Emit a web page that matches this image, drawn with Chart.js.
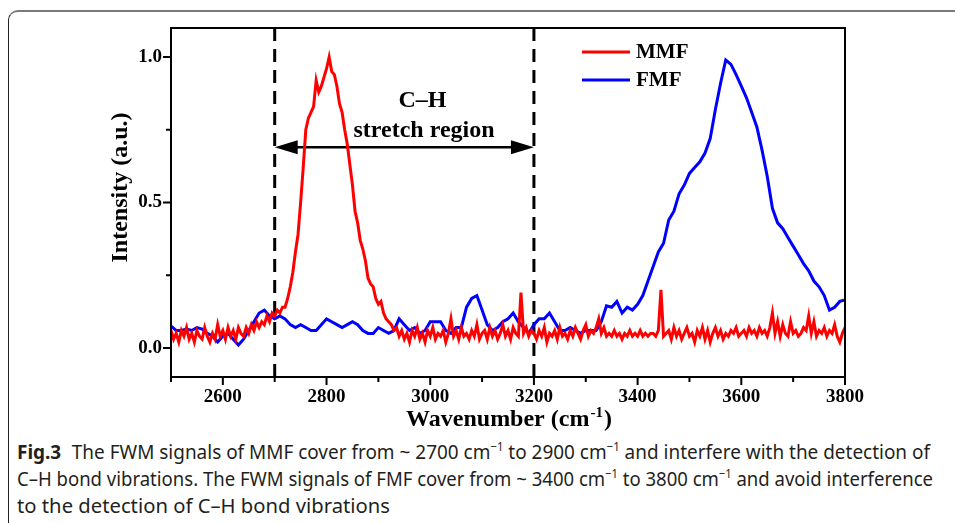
<!DOCTYPE html>
<html>
<head>
<meta charset="utf-8">
<script src="https://cdn.jsdelivr.net/npm/chart.js@4"></script>
<style>
  html, body { margin: 0; padding: 0; background: #fff; }
  body { width: 955px; height: 523px; position: relative; overflow: hidden; }
  #frame {
    position: absolute; left: 8px; top: 10px; width: 1000px; height: 600px;
    border-top: 2px solid #7a7a7a; border-left: 1.5px solid #222;
    border-top-left-radius: 10px; box-sizing: border-box;
  }
  #wrap { position: absolute; left: 0; top: 0; width: 955px; height: 435px; }
  .cap {
    position: absolute; left: 17px; white-space: nowrap; color: #231f20;
    font-family: "Noto Sans", sans-serif; font-size: 20px; transform-origin: 0 50%;
  }
  .cap b { font-weight: bold; margin-right: 6px; }
  .cap sup { font-size: 12px; vertical-align: 8px; line-height: 0; }
</style>
</head>
<body>
<div id="frame"></div>
<div id="wrap"><canvas id="myChart"></canvas></div>
<div class="cap" data-w="913" style="top:438px"><b>Fig.3</b> The FWM signals of MMF cover from ~ 2700 cm<sup>−1</sup> to 2900 cm<sup>−1</sup> and interfere with the detection of</div>
<div class="cap" data-w="916" style="top:465px">C–H bond vibrations. The FWM signals of FMF cover from ~ 3400 cm<sup>−1</sup> to 3800 cm<sup>−1</sup> and avoid interference</div>
<div class="cap" data-w="373" style="top:492px">to the detection of C–H bond vibrations</div>
<script>
// squeeze caption lines to the condensed width of the original typeface
document.querySelectorAll('.cap').forEach(function (el) {
  var k = Number(el.dataset.w) / el.getBoundingClientRect().width;
  el.style.transform = 'scaleX(' + k + ')';
});

Chart.defaults.font.family = '"Liberation Serif", "Times New Roman", serif';
Chart.defaults.color = '#000';

// MMF spectrum, sampled every 5 cm-1
var waveMMF = [
  2500,2505,2510,2515,2520,2525,2530,2535,2540,2545,2550,2555,2560,2565,2570,2575,2580,2585,2590,2595,
  2600,2605,2610,2615,2620,2625,2630,2635,2640,2645,2650,2655,2660,2665,2670,2675,2680,2685,2690,2695,
  2700,2705,2710,2715,2720,2725,2730,2735,2740,2745,2750,2755,2760,2765,2770,2775,2780,2785,2790,2795,
  2800,2805,2810,2815,2820,2825,2830,2835,2840,2845,2850,2855,2860,2865,2870,2875,2880,2885,2890,2895,
  2900,2905,2910,2915,2920,2925,2930,2935,2940,2945,2950,2955,2960,2965,2970,2975,2980,2985,2990,2995,
  3000,3005,3010,3015,3020,3025,3030,3035,3040,3045,3050,3055,3060,3065,3070,3075,3080,3085,3090,3095,
  3100,3105,3110,3115,3120,3125,3130,3135,3140,3145,3150,3155,3160,3165,3170,3175,3180,3185,3190,3195,
  3200,3205,3210,3215,3220,3225,3230,3235,3240,3245,3250,3255,3260,3265,3270,3275,3280,3285,3290,3295,
  3300,3305,3310,3315,3320,3325,3330,3335,3340,3345,3350,3355,3360,3365,3370,3375,3380,3385,3390,3395,
  3400,3405,3410,3415,3420,3425,3430,3435,3440,3445,3450,3455,3460,3465,3470,3475,3480,3485,3490,3495,
  3500,3505,3510,3515,3520,3525,3530,3535,3540,3545,3550,3555,3560,3565,3570,3575,3580,3585,3590,3595,
  3600,3605,3610,3615,3620,3625,3630,3635,3640,3645,3650,3655,3660,3665,3670,3675,3680,3685,3690,3695,
  3700,3705,3710,3715,3720,3725,3730,3735,3740,3745,3750,3755,3760,3765,3770,3775,3780,3785,3790,3795,
  3800
];
var mmf = [
  0.06,0.03,0.05,0.02,0.06,0.04,0.07,0.03,0.05,0.02,0.06,0.04,0.03,0.07,0.04,0.02,0.05,0.03,0.08,0.04,
  0.06,0.03,0.07,0.04,0.06,0.03,0.07,0.05,0.04,0.07,0.05,0.08,0.06,0.09,0.07,0.09,0.08,0.11,0.09,0.12,
  0.11,0.13,0.12,0.14,0.14,0.17,0.21,0.26,0.33,0.39,0.50,0.62,0.75,0.79,0.81,0.83,0.92,0.88,0.90,0.93,
  0.96,1.00,0.95,0.94,0.90,0.84,0.81,0.75,0.70,0.63,0.56,0.47,0.43,0.37,0.34,0.30,0.24,0.22,0.21,0.17,
  0.15,0.16,0.12,0.10,0.09,0.08,0.06,0.07,0.04,0.06,0.03,0.05,0.02,0.06,0.04,0.07,0.03,0.05,0.02,0.06,
  0.04,0.07,0.03,0.05,0.04,0.06,0.02,0.05,0.10,0.04,0.06,0.03,0.07,0.04,0.05,0.03,0.06,0.04,0.08,0.03,
  0.05,0.06,0.03,0.07,0.04,0.06,0.03,0.05,0.08,0.04,0.06,0.03,0.07,0.05,0.04,0.19,0.05,0.07,0.04,0.06,
  0.05,0.03,0.06,0.04,0.07,0.02,0.05,0.04,0.06,0.03,0.07,0.04,0.05,0.03,0.06,0.04,0.07,0.05,0.03,0.06,
  0.08,0.04,0.06,0.05,0.07,0.10,0.05,0.07,0.04,0.05,0.04,0.06,0.04,0.05,0.03,0.05,0.04,0.06,0.04,0.05,
  0.04,0.06,0.04,0.05,0.04,0.05,0.05,0.04,0.06,0.20,0.04,0.05,0.06,0.03,0.07,0.04,0.06,0.03,0.05,0.07,
  0.04,0.05,0.02,0.06,0.04,0.07,0.03,0.06,0.02,0.05,0.07,0.04,0.06,0.03,0.05,0.04,0.06,0.05,0.07,0.04,
  0.05,0.06,0.04,0.07,0.05,0.06,0.04,0.07,0.05,0.06,0.04,0.07,0.12,0.05,0.09,0.04,0.08,0.05,0.04,0.09,
  0.05,0.06,0.04,0.05,0.07,0.06,0.11,0.05,0.09,0.04,0.06,0.05,0.07,0.04,0.06,0.05,0.08,0.04,0.02,0.05,
  0.07
];

// FMF spectrum, sampled every 10 cm-1
var waveFMF = [
  2500,2510,2520,2530,2540,2550,2560,2570,2580,2590,
  2600,2610,2620,2630,2640,2650,2660,2670,2680,2690,
  2700,2710,2720,2730,2740,2750,2760,2770,2780,2790,
  2800,2810,2820,2830,2840,2850,2860,2870,2880,2890,
  2900,2910,2920,2930,2940,2950,2960,2970,2980,2990,
  3000,3010,3020,3030,3040,3050,3060,3070,3080,3090,
  3100,3110,3120,3130,3140,3150,3160,3170,3180,3190,
  3200,3210,3220,3230,3240,3250,3260,3270,3280,3290,
  3300,3310,3320,3330,3340,3350,3360,3370,3380,3390,
  3400,3410,3420,3430,3440,3450,3460,3470,3480,3490,
  3500,3510,3520,3530,3540,3550,3560,3570,3580,3590,
  3600,3610,3620,3630,3640,3650,3660,3670,3680,3690,
  3700,3710,3720,3730,3740,3750,3760,3770,3780,3790,
  3800
];
var fmf = [
  0.075,0.06,0.06,0.065,0.06,0.07,0.065,0.05,0.04,0.02,
  0.04,0.05,0.03,0.01,0.03,0.06,0.09,0.12,0.13,0.11,
  0.10,0.11,0.10,0.08,0.07,0.08,0.07,0.06,0.06,0.08,
  0.10,0.09,0.08,0.07,0.08,0.09,0.08,0.06,0.05,0.05,
  0.07,0.06,0.05,0.06,0.10,0.08,0.06,0.07,0.05,0.06,
  0.09,0.09,0.09,0.06,0.05,0.07,0.07,0.14,0.17,0.18,
  0.13,0.08,0.06,0.07,0.09,0.10,0.12,0.09,0.07,0.05,
  0.08,0.10,0.10,0.12,0.09,0.06,0.06,0.07,0.06,0.05,
  0.06,0.06,0.06,0.09,0.145,0.14,0.16,0.12,0.14,0.13,
  0.15,0.18,0.23,0.28,0.33,0.36,0.44,0.47,0.53,0.56,
  0.60,0.62,0.64,0.67,0.72,0.82,0.91,0.99,0.975,0.94,
  0.90,0.86,0.81,0.76,0.68,0.59,0.48,0.43,0.41,0.38,
  0.35,0.32,0.29,0.265,0.23,0.21,0.18,0.13,0.14,0.16,
  0.165
];

var xLabels = [2600, 2800, 3000, 3200, 3400, 3600, 3800];
var xMinor = [2500, 2700, 2900, 3100, 3300, 3500, 3700];
var yLabels = [0, 0.5, 1.0];
var yMinor = [0.25, 0.75];
var regionBounds = [2700, 3200];
var arrowLevel = 0.69;

var pts = function (xs, ys) { return xs.map(function (v, i) { return {x: v, y: ys[i]}; }); };

var extras = {
  id: 'extras',
  beforeDatasetsDraw: function (chart) {
    var ctx = chart.ctx, a = chart.chartArea, xs = chart.scales.x, ys = chart.scales.y;
    ctx.save();
    ctx.strokeStyle = '#000';
    ctx.lineWidth = 3;
    ctx.setLineDash([13, 8]);
    regionBounds.forEach(function (v) {
      var px = xs.getPixelForValue(v);
      ctx.beginPath(); ctx.moveTo(px, a.top); ctx.lineTo(px, a.bottom); ctx.stroke();
    });
    ctx.setLineDash([]);

    // double arrow between the bounds
    var x0 = xs.getPixelForValue(regionBounds[0]), x1 = xs.getPixelForValue(regionBounds[1]);
    var ay = ys.getPixelForValue(arrowLevel);
    ctx.lineWidth = 2.5;
    ctx.beginPath(); ctx.moveTo(x0 + 10, ay); ctx.lineTo(x1 - 10, ay); ctx.stroke();
    ctx.fillStyle = '#000';
    ctx.beginPath(); ctx.moveTo(x0, ay); ctx.lineTo(x0 + 23, ay - 7); ctx.lineTo(x0 + 23, ay + 7); ctx.closePath(); ctx.fill();
    ctx.beginPath(); ctx.moveTo(x1, ay); ctx.lineTo(x1 - 23, ay - 7); ctx.lineTo(x1 - 23, ay + 7); ctx.closePath(); ctx.fill();

    ctx.font = 'bold 24px "Liberation Serif"';
    ctx.textAlign = 'center';
    ctx.textBaseline = 'middle';
    ctx.fillText('C–H', xs.getPixelForValue(2985), ys.getPixelForValue(0.85));
    ctx.fillText('stretch region', xs.getPixelForValue(2988), ys.getPixelForValue(0.745));
    ctx.restore();
  },
  afterDraw: function (chart) {
    var ctx = chart.ctx, a = chart.chartArea, xs = chart.scales.x, ys = chart.scales.y;
    ctx.save();
    ctx.strokeStyle = '#000';
    ctx.lineWidth = 2;
    ctx.strokeRect(a.left, a.top, a.right - a.left, a.bottom - a.top);

    // tick marks, outward
    ctx.beginPath();
    xLabels.forEach(function (v) { var p = xs.getPixelForValue(v); ctx.moveTo(p, a.bottom); ctx.lineTo(p, a.bottom + 8); });
    xMinor.forEach(function (v) { var p = xs.getPixelForValue(v); ctx.moveTo(p, a.bottom); ctx.lineTo(p, a.bottom + 5); });
    yLabels.forEach(function (v) { var p = ys.getPixelForValue(v); ctx.moveTo(a.left, p); ctx.lineTo(a.left - 8, p); });
    yMinor.forEach(function (v) { var p = ys.getPixelForValue(v); ctx.moveTo(a.left, p); ctx.lineTo(a.left - 5, p); });
    ctx.stroke();

    // legend
    ctx.font = 'bold 21px "Liberation Serif"';
    ctx.textAlign = 'left';
    ctx.textBaseline = 'middle';
    chart.data.datasets.forEach(function (ds, i) {
      var ly = 52 + i * 28;
      ctx.strokeStyle = ds.borderColor;
      ctx.lineWidth = 3;
      ctx.beginPath(); ctx.moveTo(582, ly); ctx.lineTo(630, ly); ctx.stroke();
      ctx.fillStyle = '#000';
      ctx.fillText(ds.label, 636, ly + 1);
    });

    // axis titles
    ctx.fillStyle = '#000';
    ctx.font = 'bold 24px "Liberation Serif"';
    ctx.save();
    ctx.translate(121, (a.top + a.bottom) / 2 - 15);
    ctx.rotate(-Math.PI / 2);
    ctx.textAlign = 'center';
    ctx.textBaseline = 'middle';
    ctx.fillText('Intensity (a.u.)', 0, 0);
    ctx.restore();

    var t1 = 'Wavenumber (cm', t2 = '-1', t3 = ')';
    ctx.textBaseline = 'alphabetic';
    ctx.textAlign = 'left';
    var w1 = ctx.measureText(t1).width, w3 = ctx.measureText(t3).width;
    ctx.font = 'bold 15px "Liberation Serif"';
    var w2 = ctx.measureText(t2).width;
    var sx = (a.left + a.right) / 2 - (w1 + w2 + w3) / 2, by = 426;
    ctx.font = 'bold 24px "Liberation Serif"';
    ctx.fillText(t1, sx, by);
    ctx.font = 'bold 15px "Liberation Serif"';
    ctx.fillText(t2, sx + w1 + 1, by - 9);
    ctx.font = 'bold 24px "Liberation Serif"';
    ctx.fillText(t3, sx + w1 + w2 + 2, by);
    ctx.restore();
  }
};

var ctx = document.getElementById('myChart');

var myChart = new Chart(ctx, {
  type: 'line',
  data: {
    datasets: [{
      label: 'MMF',
      data: pts(waveMMF, mmf),
      borderColor: '#ff0000',
      borderWidth: 3,
      pointRadius: 0,
      tension: 0
    }, {
      label: 'FMF',
      data: pts(waveFMF, fmf),
      borderColor: '#0000ff',
      borderWidth: 3,
      pointRadius: 0,
      tension: 0
    }]
  },
  options: {
    responsive: true,
    maintainAspectRatio: false,
    animation: false,
    events: [],
    layout: { padding: { top: 28, right: 110, left: 0, bottom: 0 } },
    plugins: {
      legend: { display: false },
      tooltip: { enabled: false }
    },
    scales: {
      x: {
        type: 'linear',
        min: 2500,
        max: 3800,
        grid: { display: false, drawTicks: false },
        border: { display: false },
        afterBuildTicks: function (s) { s.ticks = xLabels.map(function (v) { return {value: v}; }); },
        afterFit: function (s) { s.height = 58; },
        ticks: {
          padding: 9,
          maxRotation: 0,
          autoSkip: false,
          font: { size: 19, weight: 'bold' },
          callback: function (v) { return String(v); }
        }
      },
      y: {
        min: -0.1,
        max: 1.1,
        grid: { display: false, drawTicks: false },
        border: { display: false },
        afterBuildTicks: function (s) { s.ticks = yLabels.map(function (v) { return {value: v}; }); },
        afterFit: function (s) { s.width = 171; },
        ticks: {
          padding: 9,
          autoSkip: false,
          font: { size: 19, weight: 'bold' },
          callback: function (v) { return Number(v).toFixed(1); }
        }
      }
    }
  },
  plugins: [extras]
});
</script>
</body>
</html>
